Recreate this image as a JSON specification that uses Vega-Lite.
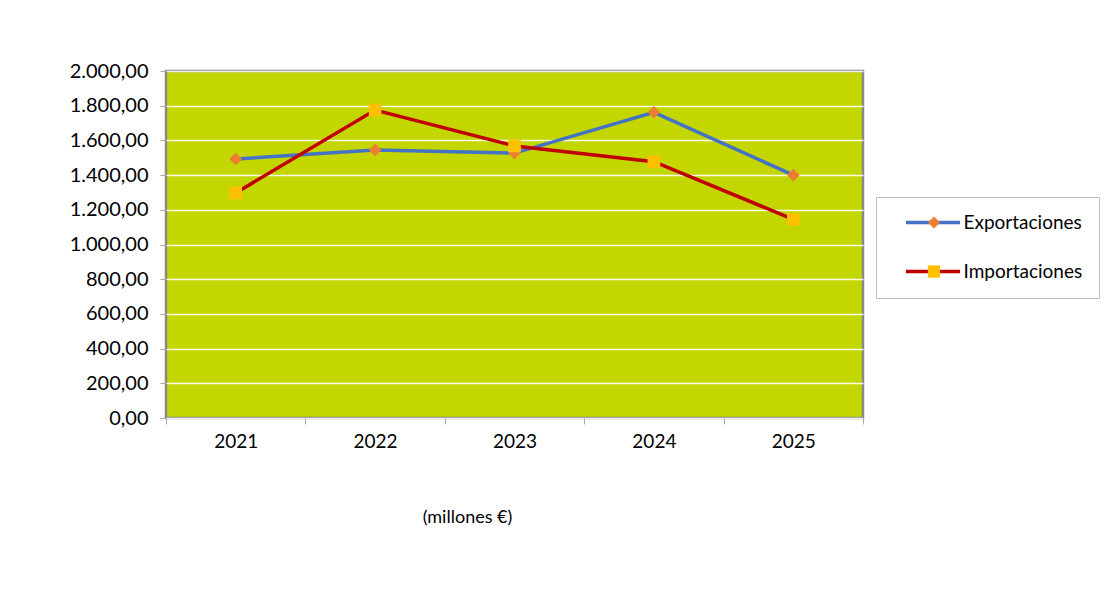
{
  "$schema": "https://vega.github.io/schema/vega-lite/v6.json",
  "width": 697,
  "height": 347,
  "autosize": {"type": "none"},
  "padding": {"left": 166, "top": 71, "right": 257, "bottom": 173},
  "background": "white",
  "config": {
    "font": "Lato",
    "view": {"fill": "#C4D600", "stroke": "#888888", "strokeWidth": 2.5}
  },
  "data": {
    "values": [
      {"year": "2021", "serie": "Exportaciones", "valor": 1493},
      {"year": "2022", "serie": "Exportaciones", "valor": 1545},
      {"year": "2023", "serie": "Exportaciones", "valor": 1527},
      {"year": "2024", "serie": "Exportaciones", "valor": 1762},
      {"year": "2025", "serie": "Exportaciones", "valor": 1400},
      {"year": "2021", "serie": "Importaciones", "valor": 1297},
      {"year": "2022", "serie": "Importaciones", "valor": 1775},
      {"year": "2023", "serie": "Importaciones", "valor": 1568},
      {"year": "2024", "serie": "Importaciones", "valor": 1477},
      {"year": "2025", "serie": "Importaciones", "valor": 1145}
    ]
  },
  "encoding": {
    "x": {
      "field": "year",
      "type": "ordinal",
      "scale": {"type": "band", "paddingInner": 0, "paddingOuter": 0},
      "axis": {
        "title": "(millones €)",
        "titleX": 301,
        "titleY": 99,
        "titleAlign": "center",
        "titleBaseline": "middle",
        "titleFontSize": 18,
        "titleFontWeight": "normal",
        "titleColor": "#000000",
        "labelAngle": 0,
        "labelFontSize": 19,
        "labelColor": "#000000",
        "labelPadding": 8,
        "tickBand": "extent",
        "tickColor": "#AAAAAA",
        "tickSize": 6,
        "domain": false,
        "grid": false
      }
    },
    "y": {
      "field": "valor",
      "type": "quantitative",
      "scale": {"domain": [0, 2000], "nice": false},
      "axis": {
        "title": null,
        "values": [0, 200, 400, 600, 800, 1000, 1200, 1400, 1600, 1800, 2000],
        "labelExpr": "replace(replace(replace(format(datum.value, ',.2f'), ',', 'X'), '.', ','), 'X', '.')",
        "labelFontSize": 20,
        "labelColor": "#000000",
        "labelPadding": 12,
        "tickColor": "#AAAAAA",
        "tickSize": 6,
        "domain": false,
        "grid": true,
        "gridColor": "#FFFFFF",
        "gridWidth": 1.5,
        "gridOpacity": 0.9
      }
    }
  },
  "layer": [
    {
      "mark": {"type": "line", "strokeWidth": 3.5},
      "encoding": {
        "color": {
          "field": "serie",
          "type": "nominal",
          "scale": {"domain": ["Exportaciones", "Importaciones"], "range": ["#4472C4", "#C00000"]},
          "legend": {
            "title": null,
            "orient": "none",
            "legendX": 710,
            "legendY": 126,
            "padding": 16,
            "strokeColor": "#BBBBBB",
            "symbolType": "M-5,0L5,0",
            "symbolSize": 117,
            "symbolStrokeWidth": 3.5,
            "symbolOffset": 31.5,
            "labelOffset": 21,
            "labelFontSize": 19,
            "labelColor": "#000000",
            "rowPadding": 29
          }
        }
      }
    },
    {
      "mark": {"type": "point", "filled": true, "opacity": 1, "strokeWidth": 0},
      "encoding": {
        "fill": {
          "field": "serie",
          "type": "nominal",
          "scale": {"domain": ["Exportaciones", "Importaciones", "otro"], "range": ["#ED7D31", "#FFC000", "#999999"]},
          "legend": {
            "title": null,
            "values": ["Exportaciones", "Importaciones"],
            "orient": "none",
            "legendX": 710,
            "legendY": 126,
            "padding": 16,
            "symbolSize": 150,
            "symbolStrokeWidth": 0,
            "symbolOffset": 32.5,
            "labelOffset": 23,
            "labelFontSize": 19,
            "labelExpr": "''",
            "rowPadding": 29
          }
        },
        "shape": {
          "field": "serie",
          "type": "nominal",
          "scale": {"domain": ["Exportaciones", "Importaciones", "otro"], "range": ["diamond", "square", "circle"]},
          "legend": {
            "title": null,
            "values": ["Exportaciones", "Importaciones"],
            "orient": "none",
            "legendX": 710,
            "legendY": 126,
            "padding": 16,
            "symbolSize": 150,
            "symbolStrokeWidth": 0,
            "symbolOffset": 32.5,
            "labelOffset": 23,
            "labelFontSize": 19,
            "labelExpr": "''",
            "rowPadding": 29
          }
        },
        "size": {"value": 160}
      }
    }
  ]
}
